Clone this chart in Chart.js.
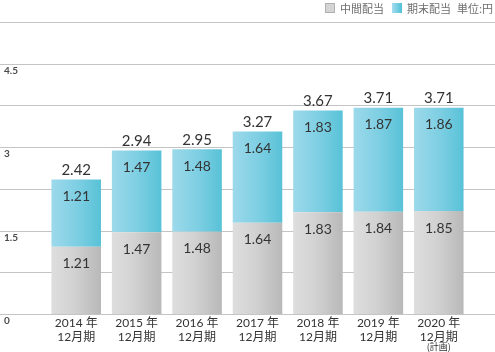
<!DOCTYPE html>
<html>
<head>
<meta charset="utf-8">
<script src="https://cdn.jsdelivr.net/npm/chart.js@4.4.1/dist/chart.umd.min.js"></script>
<style>
  html, body { margin: 0; padding: 0; background: #ffffff; }
  #wrap { width: 495px; height: 352px; position: relative; }
</style>
</head>
<body>
<div id="wrap"><canvas id="c" width="495" height="352"></canvas></div>
<script>
const categories = [
  ["2014 年", "12月期"],
  ["2015 年", "12月期"],
  ["2016 年", "12月期"],
  ["2017 年", "12月期"],
  ["2018 年", "12月期"],
  ["2019 年", "12月期"],
  ["2020 年", "12月期"]
];
const categoryNotes = ["", "", "", "", "", "", "(計画)"];
const interimDividend = [1.21, 1.47, 1.48, 1.64, 1.83, 1.84, 1.85];
const yearEndDividend = [1.21, 1.47, 1.48, 1.64, 1.83, 1.87, 1.86];
const totalDividend = [2.42, 2.94, 2.95, 3.27, 3.67, 3.71, 3.71];
const gridValues = [0, 0.75, 1.5, 2.25, 3, 3.75, 4.5, 5.25];
const yTickValues = [0, 1.5, 3, 4.5];
const yTickLabels = ["0", "1.5", "3", "4.5"];
const seriesNames = ["中間配当", "期末配当"];
const unitLabel = "単位:円";

const NUM_FONT = "Lato, 'Noto Sans CJK JP', sans-serif";
const JP_FONT = "'Noto Sans CJK JP', Lato, sans-serif";

function barGradient(stops) {
  return (ctx) => {
    const chart = ctx.chart;
    const xs = chart.scales && chart.scales.x;
    if (!xs || ctx.type !== 'data' || !chart.chartArea) return stops[0][1];
    const cx = xs.getPixelForValue(ctx.dataIndex);
    const half = 25;
    const g = chart.ctx.createLinearGradient(cx - half, 0, cx + half, 0);
    stops.forEach(s => g.addColorStop(s[0], s[1]));
    return g;
  };
}
const grayStops = [[0, '#dedede'], [0.45, '#d2d2d2'], [1, '#b8b8b8']];
const blueStops = [[0, '#9dd9eb'], [0.5, '#7fcfe3'], [1, '#58c2d7']];

const decorPlugin = {
  id: 'decor',
  beforeDatasetsDraw(chart) {
    const ctx = chart.ctx;
    const y = chart.scales.y;
    ctx.save();
    ctx.strokeStyle = '#c4c4c4';
    ctx.lineWidth = 1;
    gridValues.forEach(v => {
      const py = Math.round(y.getPixelForValue(v)) + 0.5;
      ctx.beginPath();
      ctx.moveTo(0, py);
      ctx.lineTo(495, py);
      ctx.stroke();
    });
    ctx.fillStyle = '#4a4a4a';
    ctx.font = "bold 10px " + NUM_FONT;
    ctx.textAlign = 'left';
    ctx.textBaseline = 'middle';
    yTickValues.forEach((v, i) => {
      const py = y.getPixelForValue(v);
      ctx.fillText(yTickLabels[i], 4, py + 7);
    });
    ctx.restore();
  },
  afterDatasetsDraw(chart) {
    const ctx = chart.ctx;
    const m0 = chart.getDatasetMeta(0);
    const m1 = chart.getDatasetMeta(1);
    ctx.save();
    ctx.fillStyle = '#333333';
    ctx.textAlign = 'center';
    ctx.textBaseline = 'middle';
    ctx.font = "14px " + NUM_FONT;
    m0.data.forEach((bar, i) => {
      ctx.fillText(interimDividend[i].toFixed(2), bar.x, bar.y + 17);
    });
    m1.data.forEach((bar, i) => {
      ctx.fillText(yearEndDividend[i].toFixed(2), bar.x, bar.y + 17);
    });
    ctx.font = "15px " + NUM_FONT;
    m1.data.forEach((bar, i) => {
      ctx.fillText(totalDividend[i].toFixed(2), bar.x, bar.y - 9);
    });
    const xs = chart.scales.x;
    ctx.font = "9px " + JP_FONT;
    ctx.fillStyle = '#333333';
    categoryNotes.forEach((n, i) => {
      if (n) ctx.fillText(n, xs.getPixelForValue(i), 347);
    });
    ctx.textAlign = 'left';
    ctx.font = "11px " + JP_FONT;
    ctx.fillStyle = '#d4d4d4';
    ctx.fillRect(325, 3, 10, 10);
    ctx.strokeStyle = '#b0b0b0';
    ctx.strokeRect(325.5, 3.5, 9, 9);
    const lg = ctx.createLinearGradient(392, 0, 402, 0);
    lg.addColorStop(0, '#a6ddee');
    lg.addColorStop(1, '#4fbfd6');
    ctx.fillStyle = lg;
    ctx.fillRect(392, 3, 10, 10);
    ctx.fillStyle = '#6e6e6e';
    ctx.fillText(seriesNames[0], 340, 8.5);
    ctx.fillText(seriesNames[1], 407, 8.5);
    ctx.fillText(unitLabel, 457, 8.5);
    ctx.restore();
  }
};

new Chart(document.getElementById('c'), {
  type: 'bar',
  data: {
    labels: categories,
    datasets: [
      {
        label: seriesNames[0],
        data: interimDividend,
        backgroundColor: barGradient(grayStops),
        borderWidth: 0,
        barPercentage: 0.82,
        categoryPercentage: 1
      },
      {
        label: seriesNames[1],
        data: yearEndDividend,
        backgroundColor: barGradient(blueStops),
        borderWidth: 0,
        barPercentage: 0.82,
        categoryPercentage: 1
      }
    ]
  },
  options: {
    responsive: false,
    animation: false,
    events: [],
    layout: { padding: { top: 22, left: 46, right: 26, bottom: 0 } },
    plugins: {
      legend: { display: false },
      tooltip: { enabled: false },
      title: { display: false }
    },
    scales: {
      x: {
        stacked: true,
        grid: { display: false, drawTicks: false },
        border: { display: false },
        ticks: {
          padding: 2,
          color: '#333333',
          font: { size: 12, family: NUM_FONT, lineHeight: 1.2 },
          maxRotation: 0,
          autoSkip: false
        },
        afterFit(scale) { scale.height = 38; }
      },
      y: {
        stacked: true,
        display: false,
        min: 0,
        max: 5.25
      }
    }
  },
  plugins: [decorPlugin]
});
</script>
</body>
</html>
